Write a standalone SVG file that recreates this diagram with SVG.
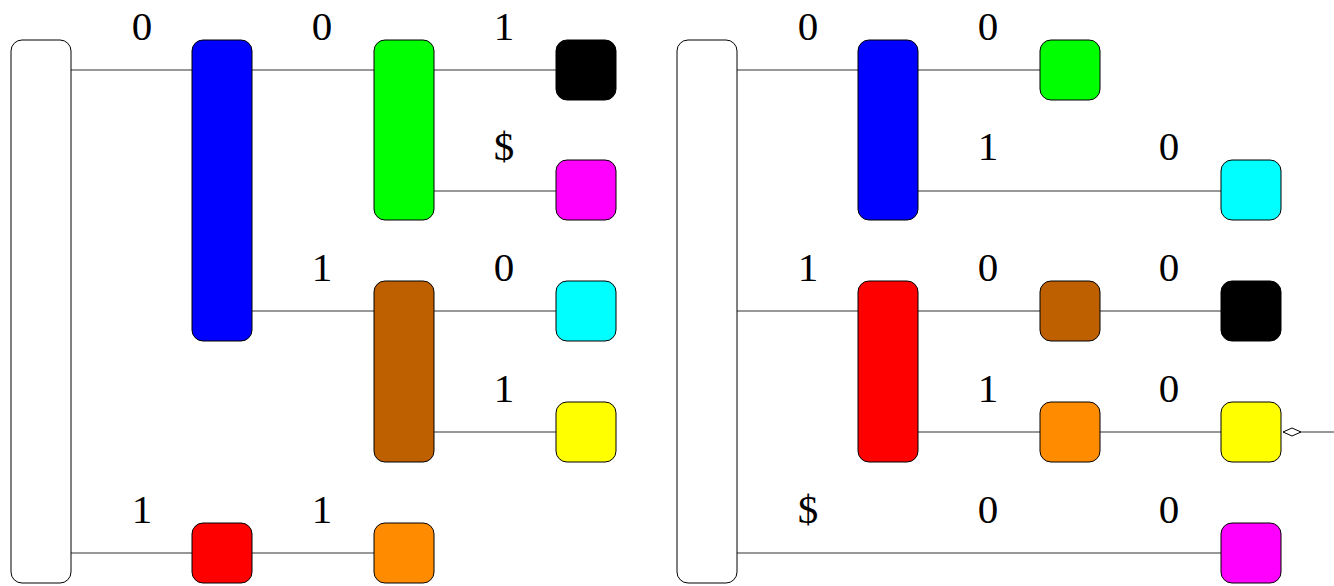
<svg xmlns="http://www.w3.org/2000/svg" width="1334" height="586" viewBox="0 0 1334 586">
<style>
.n{stroke:#000;stroke-width:1}
.e{stroke:#333;stroke-width:1.2;fill:none}
.t{font-family:"Liberation Serif","Times New Roman",serif;font-size:41px;text-anchor:middle;fill:#000}
</style>
<defs>
<marker id="dia" viewBox="0 0 20 10" refX="19" refY="5" markerWidth="20" markerHeight="10" markerUnits="userSpaceOnUse" orient="auto">
<path d="M1,5 L10,1 L19,5 L10,9 Z" fill="#fff" stroke="#000" stroke-width="1"/>
</marker>
</defs>
<rect width="1334" height="586" fill="#fff"/>
<g id="connectors">
<line class="e" x1="71" y1="70" x2="192" y2="70"/>
<line class="e" x1="252" y1="70" x2="374" y2="70"/>
<line class="e" x1="434" y1="70" x2="556" y2="70"/>
<line class="e" x1="434" y1="191" x2="556" y2="191"/>
<line class="e" x1="252" y1="311" x2="374" y2="311"/>
<line class="e" x1="434" y1="311" x2="556" y2="311"/>
<line class="e" x1="434" y1="432" x2="556" y2="432"/>
<line class="e" x1="71" y1="553" x2="192" y2="553"/>
<line class="e" x1="252" y1="553" x2="374" y2="553"/>
<line class="e" x1="737" y1="70" x2="858" y2="70"/>
<line class="e" x1="918" y1="70" x2="1040" y2="70"/>
<line class="e" x1="918" y1="191" x2="1221" y2="191"/>
<line class="e" x1="737" y1="311" x2="858" y2="311"/>
<line class="e" x1="918" y1="311" x2="1040" y2="311"/>
<line class="e" x1="1100" y1="311" x2="1221" y2="311"/>
<line class="e" x1="918" y1="432" x2="1040" y2="432"/>
<line class="e" x1="1100" y1="432" x2="1221" y2="432"/>
<line class="e" x1="737" y1="553" x2="1221" y2="553"/>
<line class="e" x1="1334" y1="432" x2="1283" y2="432" marker-end="url(#dia)"/>
</g>
<g id="left-root"><rect class="n" x="11" y="40" width="60" height="543" rx="11" fill="#fff"/></g>
<g id="left-blue"><rect class="n" x="192" y="40" width="60" height="301" rx="11" fill="#0000ff"/></g>
<g id="left-green"><rect class="n" x="374" y="40" width="60" height="180" rx="11" fill="#00ff00"/></g>
<g id="left-black"><rect class="n" x="556" y="40" width="60" height="60" rx="11" fill="#000"/></g>
<g id="left-magenta"><rect class="n" x="556" y="160" width="60" height="60" rx="11" fill="#ff00ff"/></g>
<g id="left-brown"><rect class="n" x="374" y="281" width="60" height="181" rx="11" fill="#bf6000"/></g>
<g id="left-cyan"><rect class="n" x="556" y="281" width="60" height="60" rx="11" fill="#00ffff"/></g>
<g id="left-yellow"><rect class="n" x="556" y="402" width="60" height="60" rx="11" fill="#ffff00"/></g>
<g id="left-red"><rect class="n" x="192" y="523" width="60" height="60" rx="11" fill="#ff0000"/></g>
<g id="left-orange"><rect class="n" x="374" y="523" width="60" height="60" rx="11" fill="#ff8c00"/></g>
<g id="right-root"><rect class="n" x="677" y="40" width="60" height="543" rx="11" fill="#fff"/></g>
<g id="right-blue"><rect class="n" x="858" y="40" width="60" height="180" rx="11" fill="#0000ff"/></g>
<g id="right-green"><rect class="n" x="1040" y="40" width="60" height="60" rx="11" fill="#00ff00"/></g>
<g id="right-cyan"><rect class="n" x="1221" y="160" width="60" height="60" rx="11" fill="#00ffff"/></g>
<g id="right-red"><rect class="n" x="858" y="281" width="60" height="181" rx="11" fill="#ff0000"/></g>
<g id="right-brown"><rect class="n" x="1040" y="281" width="60" height="60" rx="11" fill="#bf6000"/></g>
<g id="right-black"><rect class="n" x="1221" y="281" width="60" height="60" rx="11" fill="#000"/></g>
<g id="right-orange"><rect class="n" x="1040" y="402" width="60" height="60" rx="11" fill="#ff8c00"/></g>
<g id="right-yellow"><rect class="n" x="1221" y="402" width="60" height="60" rx="11" fill="#ffff00"/></g>
<g id="right-magenta"><rect class="n" x="1221" y="523" width="60" height="60" rx="11" fill="#ff00ff"/></g>
<g id="labels">
<text class="t" x="142" y="40">0</text>
<text class="t" x="322" y="40">0</text>
<text class="t" x="504" y="40">1</text>
<text class="t" x="504" y="160">$</text>
<text class="t" x="322" y="281">1</text>
<text class="t" x="504" y="281">0</text>
<text class="t" x="504" y="402">1</text>
<text class="t" x="142" y="523">1</text>
<text class="t" x="322" y="523">1</text>
<text class="t" x="808" y="40">0</text>
<text class="t" x="988" y="40">0</text>
<text class="t" x="988" y="160">1</text>
<text class="t" x="1169" y="160">0</text>
<text class="t" x="808" y="281">1</text>
<text class="t" x="988" y="281">0</text>
<text class="t" x="1169" y="281">0</text>
<text class="t" x="988" y="402">1</text>
<text class="t" x="1169" y="402">0</text>
<text class="t" x="808" y="523">$</text>
<text class="t" x="988" y="523">0</text>
<text class="t" x="1169" y="523">0</text>
</g>
</svg>
